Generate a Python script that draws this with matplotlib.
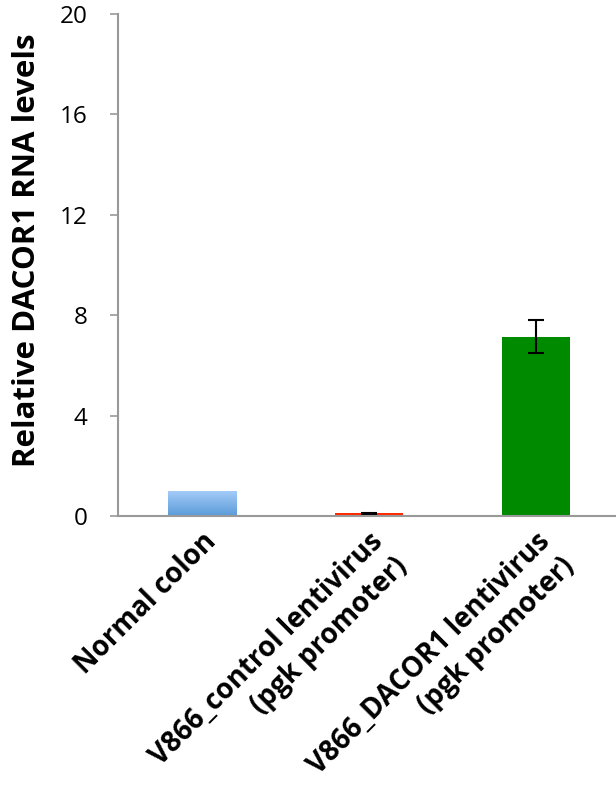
import numpy as np
import matplotlib.pyplot as plt
from matplotlib.colors import LinearSegmentedColormap

plt.rcParams['font.family'] = ['Open Sans', 'DejaVu Sans']

# data
categories = ["Normal colon",
              "V866_control lentivirus\n(pgk promoter)",
              "V866_DACOR1 lentivirus\n(pgk promoter)"]
values = [0.97, 0.10, 7.15]
errors = [0.0, 0.03, 0.65]
colors = ["#7fb2ee", "#ff2a00", "#008a00"]
yticks = [0, 4, 8, 12, 16, 20]

fig = plt.figure(figsize=(6.16, 8.02), dpi=100)
ax = fig.add_axes([118 / 616, 1 - 516 / 802, 498 / 616, 502 / 802])

x = np.arange(len(categories))
bars = ax.bar(x, values, width=0.407, color=colors, zorder=2)

# gradient on the first bar (darker bottom -> light top)
b = bars[0]
grad = np.linspace(0, 1, 100).reshape(-1, 1)
cmap = LinearSegmentedColormap.from_list("blu", ["#5b9bd9", "#a3cbf8"])
ax.imshow(grad, extent=[b.get_x(), b.get_x() + b.get_width(), 0, b.get_height()],
          origin='lower', aspect='auto', cmap=cmap, zorder=3)

ax.errorbar(x[1:], values[1:], yerr=errors[1:], fmt='none', ecolor='black',
            elinewidth=1.5, capsize=6, capthick=1.5, zorder=4)

ax.set_xlim(-0.5, 2.48)
ax.set_ylim(0, 20)
ax.set_yticks(yticks)
ax.set_yticklabels([str(t) for t in yticks], fontsize=17.5)
ax.set_ylabel("Relative DACOR1 RNA levels", fontsize=22.5, fontweight='bold')
ax.yaxis.set_label_coords(-0.152, 0.53)

ax.set_xticks(x)
ax.set_xticklabels(categories, rotation=45, ha='right', rotation_mode='anchor',
                   multialignment='right', linespacing=1.25,
                   fontsize=20, fontweight='bold')
ax.tick_params(axis='x', length=0, pad=8)
ax.tick_params(axis='y', direction='out', length=6, color='#999999', width=1.2, pad=16)

for s in ['top', 'right']:
    ax.spines[s].set_visible(False)
for s in ['left', 'bottom']:
    ax.spines[s].set_color('#999999')
    ax.spines[s].set_linewidth(1.5)
ax.spines['bottom'].set_zorder(5)

fig.savefig("out.png", dpi=100)
